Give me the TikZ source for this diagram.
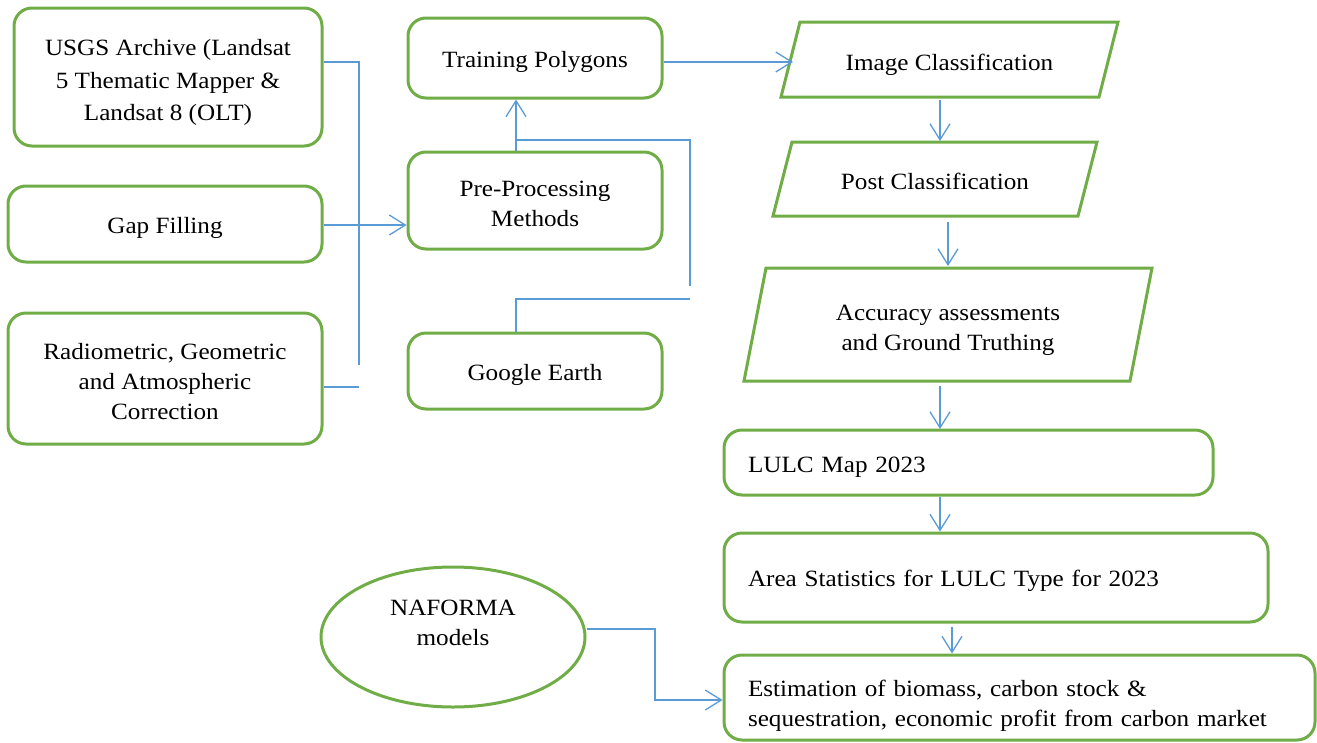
\documentclass[tikz,border=0pt]{standalone}
\usepackage{fontspec}
\setmainfont{Liberation Serif}[FakeStretch=1.08]
\usetikzlibrary{arrows.meta,shapes.geometric}
\definecolor{gr}{HTML}{70AD47}
\definecolor{bl}{HTML}{5B9BD5}
\tikzset{
  gbox/.style={draw=gr, line width=3pt, rounded corners=18pt, fill=white, align=center, inner sep=0pt},
  lbox/.style={gbox, align=left, inner xsep=24pt},
  para/.style={draw=gr, line width=3pt, line join=miter},
  ptext/.style={inner sep=0pt, align=center},
  con/.style={draw=bl, line width=1.3pt},
  arr/.style={con, -{Straight Barb[length=16pt,width=20pt]}},
  txt/.style={font=\fontsize{23.3}{30}\selectfont, text height=24pt},
  multi/.style={text height=, inner sep=0pt, draw=none, fill=none, rounded corners=0pt}
}
\begin{document}
\begin{tikzpicture}[x=1pt,y=-1pt,every node/.style={txt}]
\useasboundingbox (0,0) rectangle (1317,742);
% left column
\node[gbox, minimum width=308, minimum height=138,
  label={[multi, align=center, yshift=-5.5pt, font=\fontsize{23.3}{32.5}\selectfont]center:USGS Archive (Landsat\\5 Thematic Mapper \&\\Landsat 8 (OLT)}] (usgs) at (168,77) {};
\node[gbox, minimum width=314, minimum height=76] (gap) at (165,224) {Gap Filling};
\node[gbox, minimum width=314, minimum height=131,
  label={[multi, align=center, yshift=-3pt]center:Radiometric, Geometric\\and Atmospheric\\Correction}] (rad) at (165,378.5) {};
% middle column
\node[gbox, minimum width=254, minimum height=80] (tp) at (535,58) {Training Polygons};
\node[gbox, minimum width=254, minimum height=97,
  label={[multi, align=center, yshift=-3pt]center:Pre-Processing\\Methods}] (pre) at (535,200.5) {};
\node[gbox, minimum width=254, minimum height=76] (ge) at (535,371) {Google Earth};
% parallelograms
\draw[para] (800,22) -- (1118,22) -- (1099,97) -- (781,97) -- cycle;
\node[ptext, minimum width=318, minimum height=75] (ic) at (949.5,61.5) {Image Classification};
\draw[para] (792,142) -- (1097,142) -- (1078,216) -- (773,216) -- cycle;
\node[ptext, minimum width=305, minimum height=74] (pc) at (935,178) {Post Classification};
\draw[para] (766,268) -- (1152,268) -- (1130,381) -- (744,381) -- cycle;
\node[ptext, minimum width=386, minimum height=113,
  label={[multi, align=center, yshift=-6pt]center:Accuracy assessments\\and Ground Truthing}] (acc) at (948,324.5) {};
% right column boxes
\node[lbox, minimum width=489, minimum height=65, text width=441pt] (lulc) at (968.5,462.5) {LULC Map 2023};
\node[lbox, minimum width=544, minimum height=89, text width=496pt] (area) at (996,577.5) {Area Statistics for LULC Type for 2023};
\node[lbox, minimum width=591, minimum height=85,
  label={[multi, align=left, text width=543pt, yshift=-8pt]center:Estimation of biomass, carbon stock \&\\sequestration, economic profit from carbon market}] (est) at (1019.5,697.5) {};
% ellipse
\node[draw=gr, line width=3pt, ellipse, minimum width=264, minimum height=140, inner sep=0pt,
  label={[multi, align=center, yshift=14pt]center:NAFORMA\\models}] (naf) at (453,637) {};
% connectors left
\coordinate (j1) at (359,62);
\coordinate (j2) at (359,365);
\coordinate (j3) at (359,387);
\draw[con] (usgs.east |- j1) -- (j1) -- (j2);
\draw[con] (rad.east |- j3) -- (j3);
\coordinate (gy) at (0,225);
\draw[arr] (gap.east |- gy) -- (pre.west |- gy);
% middle connectors
\coordinate (m1) at (516,140);
\coordinate (m2) at (690,140);
\coordinate (m3) at (690,286);
\coordinate (m4) at (516,299);
\coordinate (m5) at (690,299);
\draw[arr] (pre.north -| m1) -- (tp.south -| m1);
\draw[con] (m1) -- (m2) -- (m3);
\draw[con] (ge.north -| m4) -- (m4) -- (m5);
\coordinate (icw) at (793,62);
\draw[arr] (tp.east |- icw) -- (icw);
% right arrows
\coordinate (r1s) at (940,100); \coordinate (r1e) at (940,141);
\coordinate (r2s) at (948,222); \coordinate (r2e) at (948,266);
\coordinate (r3s) at (940,386); \coordinate (r3e) at (940,429);
\coordinate (r4s) at (940,497);
\coordinate (r5s) at (952,627);
\draw[arr] (r1s) -- (r1e);
\draw[arr] (r2s) -- (r2e);
\draw[arr] (r3s) -- (r3e);
\draw[arr] (r4s) -- (r4s |- area.north);
\draw[arr] (r5s) -- (r5s |- est.north);
% naforma connector
\coordinate (k1) at (655,629);
\coordinate (k2) at (655,700);
\draw[arr] (naf.east |- k1) -- (k1) -- (k2) -- (k2 -| est.west);
\end{tikzpicture}
\end{document}
